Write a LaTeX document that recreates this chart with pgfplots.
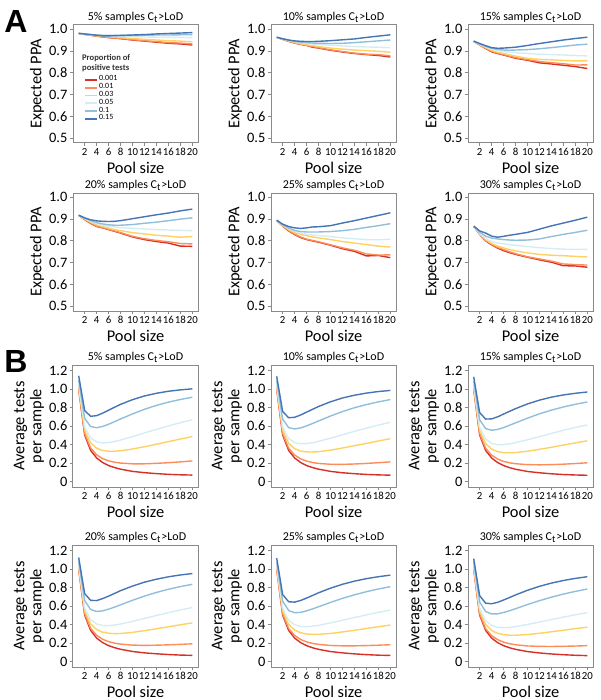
\documentclass[border=0pt]{standalone}
\usepackage{fontspec}
\setmainfont{Carlito}
\setsansfont{Carlito}
\newfontfamily\arialf{Liberation Sans}
\usepackage{pgfplots}
\usepackage{pgfplotstable}
\pgfplotsset{compat=1.18}
\definecolor{cR}{HTML}{D73027}
\definecolor{cO}{HTML}{FC8D59}
\definecolor{cY}{HTML}{FDD262}
\definecolor{cL}{HTML}{D6ECF5}
\definecolor{cM}{HTML}{91BFDB}
\definecolor{cB}{HTML}{4575B4}
\definecolor{frame}{HTML}{8A8A8A}

% columns: k, p=0.001, 0.01, 0.03, 0.05, 0.1, 0.15
\pgfplotstableread{
k r o y l m b
1 0.981 0.981 0.981 0.981 0.981 0.982
2 0.977 0.977 0.977 0.978 0.978 0.979
3 0.973 0.973 0.974 0.975 0.976 0.976
4 0.969 0.969 0.971 0.973 0.974 0.973
5 0.965 0.966 0.968 0.971 0.973 0.970
6 0.962 0.963 0.966 0.970 0.972 0.970
7 0.960 0.961 0.964 0.969 0.972 0.971
8 0.957 0.958 0.962 0.968 0.972 0.972
10 0.951 0.953 0.958 0.966 0.972 0.974
12 0.946 0.948 0.954 0.965 0.973 0.976
14 0.941 0.944 0.951 0.964 0.974 0.979
16 0.936 0.939 0.948 0.963 0.974 0.981
18 0.933 0.937 0.946 0.963 0.975 0.983
20 0.928 0.933 0.943 0.962 0.975 0.985
}\tAa
\pgfplotstableread{
k r o y l m b
1 0.963 0.963 0.963 0.963 0.963 0.964
2 0.954 0.954 0.955 0.956 0.956 0.957
3 0.945 0.946 0.947 0.949 0.950 0.951
4 0.937 0.938 0.940 0.944 0.945 0.947
5 0.931 0.932 0.934 0.940 0.941 0.945
6 0.926 0.927 0.929 0.936 0.939 0.944
7 0.918 0.921 0.925 0.933 0.937 0.944
8 0.914 0.916 0.921 0.931 0.936 0.945
10 0.904 0.906 0.914 0.927 0.935 0.948
12 0.896 0.898 0.909 0.924 0.936 0.952
14 0.889 0.891 0.905 0.921 0.939 0.956
16 0.884 0.886 0.902 0.919 0.943 0.963
18 0.880 0.884 0.899 0.918 0.947 0.969
20 0.873 0.878 0.895 0.916 0.951 0.975
}\tAb
\pgfplotstableread{
k r o y l m b
1 0.945 0.945 0.945 0.945 0.945 0.946
2 0.928 0.929 0.930 0.932 0.933 0.935
3 0.912 0.914 0.916 0.920 0.922 0.925
4 0.897 0.900 0.903 0.910 0.913 0.916
5 0.889 0.891 0.895 0.903 0.908 0.913
6 0.882 0.884 0.889 0.898 0.905 0.914
7 0.875 0.877 0.883 0.895 0.904 0.916
8 0.867 0.870 0.877 0.893 0.905 0.918
10 0.858 0.861 0.867 0.889 0.907 0.926
12 0.846 0.852 0.862 0.886 0.911 0.935
14 0.841 0.847 0.860 0.884 0.916 0.943
16 0.835 0.842 0.857 0.882 0.922 0.951
18 0.829 0.836 0.855 0.880 0.928 0.958
20 0.820 0.837 0.855 0.878 0.932 0.964
}\tAc
\pgfplotstableread{
k r o y l m b
1 0.917 0.917 0.917 0.917 0.917 0.918
2 0.898 0.899 0.901 0.903 0.904 0.906
3 0.880 0.882 0.886 0.890 0.893 0.897
4 0.866 0.868 0.874 0.880 0.884 0.892
5 0.860 0.861 0.866 0.873 0.878 0.890
6 0.852 0.853 0.859 0.868 0.874 0.889
7 0.844 0.846 0.852 0.864 0.872 0.890
8 0.836 0.838 0.847 0.861 0.872 0.893
10 0.818 0.821 0.838 0.858 0.875 0.902
12 0.806 0.810 0.832 0.855 0.881 0.911
14 0.797 0.802 0.826 0.852 0.886 0.920
16 0.790 0.796 0.822 0.850 0.893 0.928
18 0.776 0.788 0.817 0.848 0.900 0.938
20 0.775 0.786 0.820 0.847 0.906 0.946
}\tAd
\pgfplotstableread{
k r o y l m b
1 0.894 0.894 0.894 0.894 0.894 0.895
2 0.868 0.869 0.871 0.873 0.874 0.877
3 0.846 0.848 0.852 0.857 0.859 0.866
4 0.829 0.831 0.838 0.845 0.848 0.860
5 0.815 0.818 0.830 0.836 0.843 0.857
6 0.806 0.808 0.824 0.830 0.841 0.860
7 0.800 0.802 0.818 0.827 0.841 0.864
8 0.794 0.796 0.814 0.825 0.841 0.865
10 0.780 0.782 0.806 0.820 0.843 0.870
12 0.764 0.768 0.797 0.814 0.847 0.882
14 0.752 0.757 0.790 0.810 0.853 0.893
16 0.731 0.740 0.783 0.806 0.862 0.905
18 0.733 0.735 0.776 0.805 0.870 0.917
20 0.723 0.736 0.772 0.808 0.879 0.929
}\tAe
\pgfplotstableread{
k r o y l m b
1 0.867 0.867 0.867 0.867 0.867 0.868
2 0.830 0.831 0.833 0.835 0.840 0.846
3 0.800 0.802 0.806 0.811 0.822 0.836
4 0.782 0.785 0.788 0.797 0.813 0.822
5 0.767 0.770 0.776 0.790 0.809 0.817
6 0.755 0.760 0.768 0.787 0.806 0.821
7 0.746 0.750 0.760 0.783 0.804 0.826
8 0.738 0.741 0.754 0.780 0.803 0.830
10 0.725 0.727 0.745 0.774 0.804 0.839
12 0.713 0.717 0.738 0.769 0.809 0.854
14 0.702 0.707 0.734 0.765 0.820 0.869
16 0.686 0.694 0.732 0.762 0.830 0.882
18 0.685 0.691 0.729 0.761 0.839 0.895
20 0.679 0.689 0.726 0.761 0.849 0.909
}\tAf
\pgfplotstableread{
k r o y l m b
1 1.001 1.010 1.029 1.048 1.096 1.144
2 0.502 0.519 0.557 0.594 0.682 0.767
3 0.336 0.362 0.417 0.470 0.594 0.705
4 0.254 0.288 0.360 0.428 0.581 0.712
5 0.205 0.247 0.335 0.417 0.595 0.739
6 0.172 0.223 0.327 0.421 0.619 0.771
7 0.150 0.208 0.327 0.432 0.647 0.803
8 0.133 0.199 0.332 0.448 0.676 0.834
10 0.109 0.191 0.351 0.485 0.731 0.885
12 0.095 0.191 0.376 0.525 0.781 0.925
14 0.085 0.196 0.403 0.564 0.823 0.954
16 0.077 0.203 0.431 0.601 0.858 0.976
18 0.072 0.212 0.459 0.636 0.887 0.991
20 0.069 0.222 0.486 0.668 0.911 1.002
}\tBa
\pgfplotstableread{
k r o y l m b
1 1.001 1.010 1.028 1.046 1.092 1.138
2 0.502 0.518 0.554 0.590 0.674 0.756
3 0.336 0.361 0.413 0.464 0.583 0.690
4 0.254 0.286 0.355 0.420 0.568 0.694
5 0.205 0.245 0.329 0.408 0.579 0.719
6 0.172 0.220 0.320 0.410 0.601 0.750
7 0.150 0.205 0.318 0.419 0.627 0.781
8 0.133 0.195 0.322 0.434 0.655 0.811
10 0.109 0.186 0.339 0.468 0.708 0.862
12 0.094 0.185 0.362 0.505 0.756 0.903
14 0.084 0.189 0.387 0.542 0.798 0.933
16 0.076 0.195 0.412 0.577 0.832 0.956
18 0.071 0.203 0.438 0.610 0.861 0.973
20 0.068 0.212 0.463 0.640 0.886 0.985
}\tBb
\pgfplotstableread{
k r o y l m b
1 1.001 1.009 1.027 1.044 1.088 1.132
2 0.502 0.517 0.552 0.586 0.667 0.745
3 0.336 0.359 0.410 0.458 0.572 0.675
4 0.254 0.284 0.350 0.412 0.554 0.677
5 0.205 0.243 0.323 0.398 0.563 0.699
6 0.172 0.217 0.312 0.399 0.583 0.729
7 0.149 0.202 0.310 0.407 0.608 0.759
8 0.132 0.192 0.313 0.420 0.634 0.788
10 0.108 0.182 0.327 0.451 0.685 0.839
12 0.094 0.180 0.348 0.485 0.732 0.880
14 0.083 0.182 0.370 0.520 0.772 0.912
16 0.075 0.187 0.394 0.553 0.806 0.936
18 0.070 0.194 0.417 0.584 0.835 0.954
20 0.067 0.202 0.440 0.612 0.860 0.968
}\tBc
\pgfplotstableread{
k r o y l m b
1 1.001 1.009 1.025 1.042 1.083 1.125
2 0.502 0.517 0.549 0.581 0.659 0.734
3 0.336 0.358 0.406 0.453 0.562 0.661
4 0.253 0.283 0.345 0.405 0.541 0.659
5 0.204 0.240 0.317 0.389 0.547 0.680
6 0.171 0.215 0.305 0.387 0.566 0.707
7 0.149 0.198 0.301 0.394 0.588 0.736
8 0.132 0.188 0.303 0.405 0.613 0.766
10 0.108 0.177 0.315 0.434 0.662 0.816
12 0.093 0.174 0.333 0.466 0.707 0.858
14 0.083 0.176 0.354 0.497 0.747 0.890
16 0.075 0.180 0.375 0.528 0.781 0.916
18 0.069 0.185 0.397 0.557 0.810 0.936
20 0.066 0.191 0.417 0.584 0.835 0.951
}\tBd
\pgfplotstableread{
k r o y l m b
1 1.001 1.008 1.024 1.040 1.079 1.119
2 0.501 0.516 0.547 0.577 0.652 0.723
3 0.336 0.356 0.403 0.447 0.551 0.646
4 0.253 0.281 0.340 0.397 0.527 0.642
5 0.204 0.238 0.311 0.379 0.531 0.660
6 0.171 0.212 0.297 0.376 0.548 0.686
7 0.148 0.195 0.293 0.382 0.569 0.714
8 0.131 0.185 0.294 0.391 0.592 0.743
10 0.107 0.173 0.303 0.417 0.639 0.793
12 0.093 0.169 0.319 0.446 0.683 0.835
14 0.082 0.169 0.337 0.475 0.721 0.869
16 0.074 0.172 0.357 0.504 0.755 0.896
18 0.068 0.176 0.376 0.531 0.784 0.917
20 0.065 0.181 0.394 0.556 0.809 0.934
}\tBe
\pgfplotstableread{
k r o y l m b
1 1.001 1.008 1.023 1.038 1.075 1.113
2 0.501 0.515 0.544 0.573 0.644 0.712
3 0.336 0.355 0.399 0.441 0.540 0.631
4 0.253 0.279 0.335 0.389 0.514 0.624
5 0.204 0.236 0.305 0.370 0.515 0.640
6 0.171 0.209 0.290 0.365 0.530 0.665
7 0.148 0.192 0.284 0.369 0.549 0.692
8 0.131 0.181 0.284 0.377 0.571 0.720
10 0.107 0.168 0.291 0.400 0.616 0.770
12 0.092 0.163 0.305 0.426 0.658 0.813
14 0.081 0.162 0.321 0.453 0.696 0.848
16 0.073 0.164 0.338 0.480 0.729 0.876
18 0.067 0.167 0.355 0.505 0.758 0.899
20 0.063 0.171 0.371 0.528 0.784 0.917
}\tBf

\newcommand\plotall[1]{%
  \addplot[color=cR] table[x=k,y=r]{#1};
  \addplot[color=cO] table[x=k,y=o]{#1};
  \addplot[color=cY] table[x=k,y=y]{#1};
  \addplot[color=cL] table[x=k,y=l]{#1};
  \addplot[color=cM] table[x=k,y=m]{#1};
  \addplot[color=cB] table[x=k,y=b]{#1};
}
\newcommand\ttl[1]{#1\% samples C\textsubscript{t}>LoD}

\pgfplotsset{
  panel/.style={
    scale only axis, width=62.5pt, anchor=north west,
    xmin=0.05, xmax=20.95, xtick={2,4,6,8,10,12,14,16,18,20},
    axis line style={draw=frame, line width=0.5pt},
    tick style={draw=frame, line width=0.4pt},
    tick align=outside, xtick pos=bottom, ytick pos=left,
    major tick length=1.6pt,
    /pgf/number format/assume math mode=true,
    xticklabel style={font=\fontsize{5.4}{6}\selectfont, inner sep=1pt},
    yticklabel style={font=\fontsize{7.2}{7.5}\selectfont, inner sep=1pt},
    xlabel style={font=\fontsize{8.2}{9}\selectfont, yshift=1.5pt},
    ylabel style={font=\fontsize{8.2}{8.6}\selectfont, yshift=-2pt},
    title style={font=\fontsize{6}{7}\selectfont, yshift=-8.5pt},
    every axis plot/.append style={line width=0.7pt, no markers},
    xlabel={Pool size},
  },
  panA/.style={panel, height=59pt, ymin=0.478, ymax=1.02,
    ytick={0.5,0.6,0.7,0.8,0.9,1.0}, yticklabels={0.5,0.6,0.7,0.8,0.9,1.0},
    ylabel={Expected PPA}},
  panB/.style={panel, height=61pt, ymin=-0.06, ymax=1.26,
    ytick={0,0.2,0.4,0.6,0.8,1.0,1.2}, yticklabels={0,0.2,0.4,0.6,0.8,1.0,1.2},
    ylabel={Average tests\\per sample}, ylabel style={align=center}},
}

\begin{document}
\begin{tikzpicture}
\path[use as bounding box] (0,0) rectangle (300pt,-350pt);
\node[font=\arialf\bfseries\fontsize{16}{16}\selectfont] at (8pt,-10.5pt) {A};
\node[font=\arialf\bfseries\fontsize{16}{16}\selectfont] at (8pt,-180.5pt) {B};

\begin{axis}[panA, at={(36.5pt,-12.5pt)}, title={\ttl{5}},
  legend style={at={(0.085,0.585)}, anchor=north west, draw=none, fill=none,
    font=\fontsize{4}{4.4}\selectfont, row sep=-1.6pt, inner sep=0pt,
    nodes={inner sep=0.7pt}},
  legend cell align=left,
  legend image post style={line width=0.85pt},
  legend image code/.code={\draw[mark repeat=2,mark phase=2,#1] plot coordinates {(0pt,0pt) (3pt,0pt) (6pt,0pt)};}]
\plotall{\tAa}
\legend{0.001,0.01,0.03,0.05,0.1,0.15}
\node[anchor=north west, align=left, inner sep=0pt, text=black!80,
  font=\fontsize{4.3}{4.9}\selectfont\bfseries] at (rel axis cs:0.07,0.75)
  {Proportion of\\positive tests};
\end{axis}
\begin{axis}[panA, at={(135.5pt,-12.5pt)}, title={\ttl{10}}]
\plotall{\tAb}
\end{axis}
\begin{axis}[panA, at={(234pt,-12.5pt)}, title={\ttl{15}}]
\plotall{\tAc}
\end{axis}

\begin{axis}[panA, at={(36.5pt,-96.5pt)}, title={\ttl{20}}]
\plotall{\tAd}
\end{axis}
\begin{axis}[panA, at={(135.5pt,-96.5pt)}, title={\ttl{25}}]
\plotall{\tAe}
\end{axis}
\begin{axis}[panA, at={(234pt,-96.5pt)}, title={\ttl{30}}]
\plotall{\tAf}
\end{axis}

\begin{axis}[panB, at={(36.5pt,-182.5pt)}, title={\ttl{5}}]
\plotall{\tBa}
\end{axis}
\begin{axis}[panB, at={(135.5pt,-182.5pt)}, title={\ttl{10}}]
\plotall{\tBb}
\end{axis}
\begin{axis}[panB, at={(234pt,-182.5pt)}, title={\ttl{15}}]
\plotall{\tBc}
\end{axis}

\begin{axis}[panB, at={(36.5pt,-272.5pt)}, title={\ttl{20}}]
\plotall{\tBd}
\end{axis}
\begin{axis}[panB, at={(135.5pt,-272.5pt)}, title={\ttl{25}}]
\plotall{\tBe}
\end{axis}
\begin{axis}[panB, at={(234pt,-272.5pt)}, title={\ttl{30}}]
\plotall{\tBf}
\end{axis}
\end{tikzpicture}
\end{document}
